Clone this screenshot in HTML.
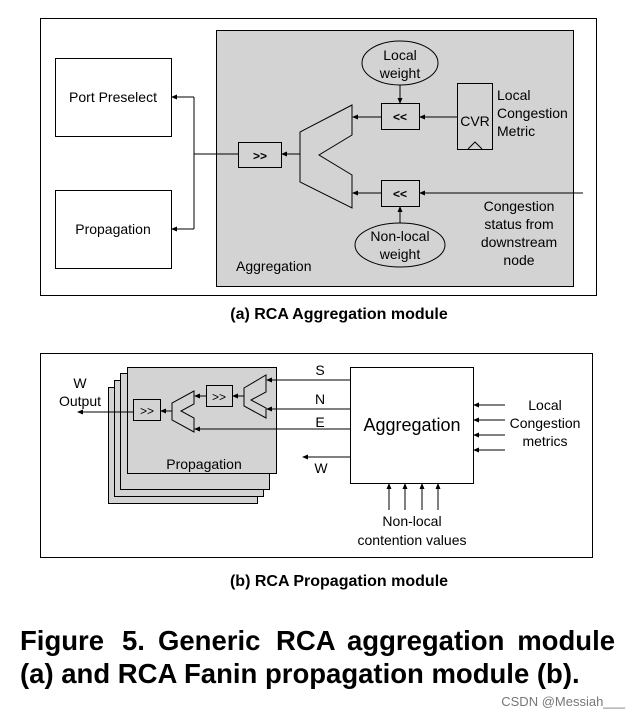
<!DOCTYPE html>
<html><head><style>
body{margin:0;background:#fff;}
svg text{font-family:"Liberation Sans",Arial,sans-serif;}
</style></head><body>
<svg width="639" height="719" viewBox="0 0 639 719" xmlns="http://www.w3.org/2000/svg">
<defs><marker id="a" markerWidth="6" markerHeight="6" refX="5" refY="3" orient="auto" markerUnits="userSpaceOnUse"><path d="M0,0.5 L6,3 L0,5.5z" fill="#000"/></marker></defs>
<g stroke="#000" stroke-width="1" fill="none">
<rect x="40.5" y="18.5" width="556" height="277"/>
<rect x="216.5" y="30.5" width="357" height="256" fill="#d3d3d3"/>
<rect x="55.5" y="58.5" width="116" height="78" fill="#fff"/>
<rect x="55.5" y="190.5" width="116" height="78" fill="#fff"/>
<line x1="238" y1="154" x2="194" y2="154"/>
<line x1="194" y1="97" x2="194" y2="229"/>
<line x1="194" y1="97" x2="172" y2="97" marker-end="url(#a)"/>
<line x1="194" y1="229" x2="172" y2="229" marker-end="url(#a)"/>
<rect x="238.5" y="142.5" width="43" height="25"/>
<line x1="300" y1="154" x2="282" y2="154" marker-end="url(#a)"/>
<path d="M352,105 L352,135 L319,155 L352,175 L352,208 L300,182 L300,132 Z"/>
<rect x="381.5" y="103.5" width="38" height="26"/>
<rect x="381.5" y="180.5" width="38" height="26"/>
<line x1="381" y1="117" x2="353" y2="117" marker-end="url(#a)"/>
<line x1="381" y1="193" x2="353" y2="193" marker-end="url(#a)"/>
<line x1="457" y1="117" x2="420" y2="117" marker-end="url(#a)"/>
<line x1="583" y1="193" x2="420" y2="193" marker-end="url(#a)"/>
<rect x="457.5" y="83.5" width="35" height="66"/>
<path d="M468,149 L475,142 L482,149"/>
<ellipse cx="400" cy="63" rx="38" ry="22"/>
<ellipse cx="400" cy="245" rx="45" ry="22"/>
<line x1="400" y1="85" x2="400" y2="103" marker-end="url(#a)"/>
<line x1="400" y1="223" x2="400" y2="207" marker-end="url(#a)"/>
</g>
<g font-size="14" fill="#000">
<text x="113" y="102" text-anchor="middle">Port Preselect</text>
<text x="113" y="234" text-anchor="middle">Propagation</text>
<text x="260" y="160" text-anchor="middle" font-weight="bold" font-size="12">&gt;&gt;</text>
<text x="400" y="121" text-anchor="middle" font-weight="bold" font-size="12">&lt;&lt;</text>
<text x="400" y="198" text-anchor="middle" font-weight="bold" font-size="12">&lt;&lt;</text>
<text x="475" y="126" text-anchor="middle">CVR</text>
<text x="400" y="60" text-anchor="middle">Local</text>
<text x="400" y="78" text-anchor="middle">weight</text>
<text x="400" y="241" text-anchor="middle">Non-local</text>
<text x="400" y="259" text-anchor="middle">weight</text>
<text x="497" y="100">Local</text>
<text x="497" y="118">Congestion</text>
<text x="497" y="136">Metric</text>
<text x="519" y="211" text-anchor="middle">Congestion</text>
<text x="519" y="229" text-anchor="middle">status from</text>
<text x="519" y="247" text-anchor="middle">downstream</text>
<text x="519" y="265" text-anchor="middle">node</text>
<text x="236" y="271">Aggregation</text>
</g>
<text x="339" y="319" text-anchor="middle" font-size="16" font-weight="bold">(a) RCA Aggregation module</text>

<g stroke="#000" stroke-width="1">
<rect x="40.5" y="353.5" width="552" height="204" fill="none"/>
<rect x="108.5" y="387.5" width="149" height="116" fill="#d3d3d3"/>
<rect x="114.5" y="380.5" width="149" height="116" fill="#d3d3d3"/>
<rect x="120.5" y="373.5" width="149" height="116" fill="#d3d3d3"/>
<rect x="127.5" y="367.5" width="149" height="106" fill="#d3d3d3"/>
<rect x="350.5" y="367.5" width="123" height="116" fill="#fff"/>
<g fill="none">
<line x1="350" y1="380" x2="267" y2="380" marker-end="url(#a)"/>
<line x1="350" y1="409" x2="267" y2="409" marker-end="url(#a)"/>
<line x1="350" y1="429" x2="195" y2="429" marker-end="url(#a)"/>
<line x1="350" y1="457" x2="303" y2="457" marker-end="url(#a)"/>
<path d="M266,375 L266,392 L251,400 L266,408 L266,418 L244,406 L244,388 Z"/>
<path d="M194,391 L194,404 L181,411 L194,418 L194,432 L172,420 L172,403 Z"/>
<rect x="206.5" y="385.5" width="26" height="21"/>
<rect x="133.5" y="399.5" width="27" height="21"/>
<line x1="244" y1="396" x2="233" y2="396" marker-end="url(#a)"/>
<line x1="206" y1="396" x2="195" y2="396" marker-end="url(#a)"/>
<line x1="172" y1="411" x2="161" y2="411" marker-end="url(#a)"/>
<line x1="133" y1="412" x2="78" y2="412" marker-end="url(#a)"/>
<line x1="505" y1="405" x2="474" y2="405" marker-end="url(#a)"/>
<line x1="505" y1="420" x2="474" y2="420" marker-end="url(#a)"/>
<line x1="505" y1="435" x2="474" y2="435" marker-end="url(#a)"/>
<line x1="505" y1="450" x2="474" y2="450" marker-end="url(#a)"/>
<line x1="389" y1="510" x2="389" y2="484" marker-end="url(#a)"/>
<line x1="405" y1="510" x2="405" y2="484" marker-end="url(#a)"/>
<line x1="422" y1="510" x2="422" y2="484" marker-end="url(#a)"/>
<line x1="438" y1="510" x2="438" y2="484" marker-end="url(#a)"/>
</g></g>
<g font-size="14" fill="#000">
<text x="219" y="401" text-anchor="middle" font-size="12">&gt;&gt;</text>
<text x="147" y="415" text-anchor="middle" font-size="12">&gt;&gt;</text>
<text x="204" y="469" text-anchor="middle">Propagation</text>
<text x="80" y="388" text-anchor="middle">W</text>
<text x="80" y="406" text-anchor="middle">Output</text>
<text x="320" y="375" text-anchor="middle">S</text>
<text x="320" y="404" text-anchor="middle">N</text>
<text x="320" y="427" text-anchor="middle">E</text>
<text x="321" y="473" text-anchor="middle">W</text>
<text x="412" y="431" text-anchor="middle" font-size="18">Aggregation</text>
<text x="545" y="410" text-anchor="middle">Local</text>
<text x="545" y="428" text-anchor="middle">Congestion</text>
<text x="545" y="446" text-anchor="middle">metrics</text>
<text x="412" y="526" text-anchor="middle">Non-local</text>
<text x="412" y="545" text-anchor="middle">contention values</text>
</g>
<text x="339" y="586" text-anchor="middle" font-size="16" font-weight="bold">(b) RCA Propagation module</text>
<g font-size="27.5" font-weight="bold">
<text x="20" y="650">Figure</text>
<text x="122" y="650">5.</text>
<text x="158" y="650">Generic</text>
<text x="276" y="650">RCA</text>
<text x="347" y="650">aggregation</text>
<text x="615" y="650" text-anchor="end">module</text>
<text x="20" y="683">(a) and RCA Fanin propagation module (b).</text>
</g>
<text x="625" y="706" text-anchor="end" font-size="13" fill="#777">CSDN @Messiah___</text>
</svg>
</body></html>
